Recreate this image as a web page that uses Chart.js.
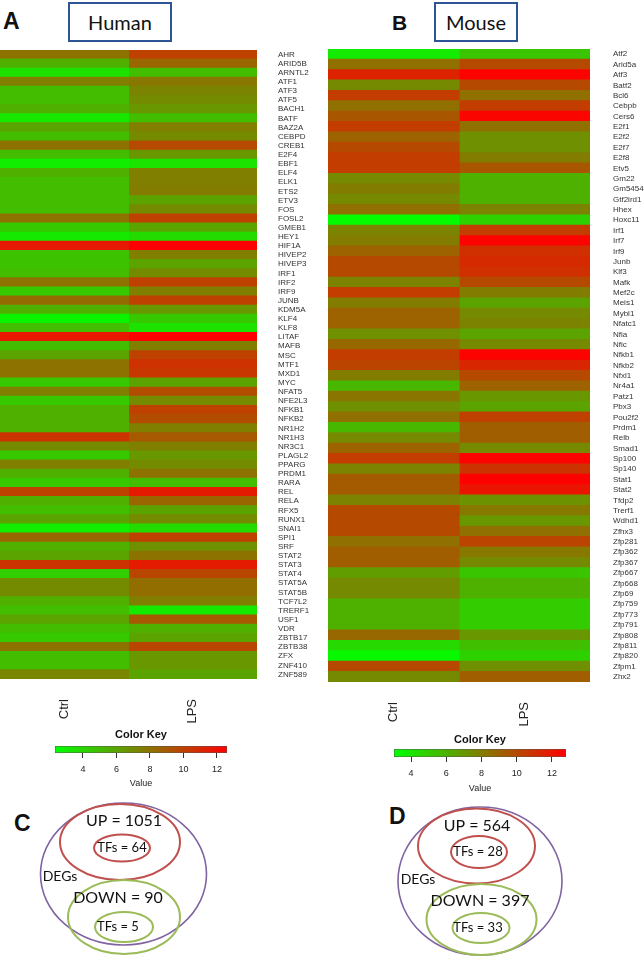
<!DOCTYPE html>
<meta charset="utf-8">
<title>TF heatmaps</title>
<style>
  body { margin: 0; background: #fff; }
  #page { position: relative; width: 644px; height: 960px; overflow: hidden; font-family: "Liberation Sans", Arial, sans-serif; }
  .abs { position: absolute; }
  .panel { font-weight: bold; line-height: 1; color: #111; }
  .hdr { border: 2.5px solid #2f5496; box-sizing: border-box; display: flex; align-items: center; justify-content: center; font-family: Lato, sans-serif; font-size: 20px; color: #111; }
</style>
<div id="page">
  <div class="abs panel" style="left:3px;top:10px;font-size:23px">A</div>
  <div class="abs hdr" style="left:68px;top:2px;width:104px;height:40px">Human</div>
  <div class="abs panel" style="left:392px;top:12px;font-size:21px">B</div>
  <div class="abs hdr" style="left:434px;top:2px;width:84px;height:40px">Mouse</div>
  <div class="abs panel" style="left:14px;top:812px;font-size:23px">C</div>
  <div class="abs panel" style="left:389px;top:805px;font-size:23px">D</div>

  <div class="abs" style="left:0;top:0;width:330px;height:735px"><canvas id="hHeat"></canvas></div>
  <div class="abs" style="left:328px;top:0;width:316px;height:740px"><canvas id="mHeat"></canvas></div>
  <div class="abs" style="left:40px;top:728px;width:210px;height:65px"><canvas id="hKey"></canvas></div>
  <div class="abs" style="left:380px;top:733px;width:210px;height:65px"><canvas id="mKey"></canvas></div>
  <div class="abs" style="left:0;top:795px;width:230px;height:165px"><canvas id="hVenn"></canvas></div>
  <div class="abs" style="left:380px;top:795px;width:200px;height:165px"><canvas id="mVenn"></canvas></div>
</div>
<script src="https://cdn.jsdelivr.net/npm/chart.js@4"></script>
<script>
  const conditions = ["Ctrl", "LPS"]

  const humanGenes = ["AHR", "ARID5B", "ARNTL2", "ATF1", "ATF3", "ATF5", "BACH1", "BATF", "BAZ2A", "CEBPD",
    "CREB1", "E2F4", "EBF1", "ELF4", "ELK1", "ETS2", "ETV3", "FOS", "FOSL2", "GMEB1",
    "HEY1", "HIF1A", "HIVEP2", "HIVEP3", "IRF1", "IRF2", "IRF9", "JUNB", "KDM5A", "KLF4",
    "KLF8", "LITAF", "MAFB", "MSC", "MTF1", "MXD1", "MYC", "NFAT5", "NFE2L3", "NFKB1",
    "NFKB2", "NR1H2", "NR1H3", "NR3C1", "PLAGL2", "PPARG", "PRDM1", "RARA", "REL", "RELA",
    "RFX5", "RUNX1", "SNAI1", "SPI1", "SRF", "STAT2", "STAT3", "STAT4", "STAT5A", "STAT5B",
    "TCF7L2", "TRERF1", "USF1", "VDR", "ZBTB17", "ZBTB38", "ZFX", "ZNF410", "ZNF589"]
  const humanCtrl = [8, 5.5, 3.5, 7.5, 5, 5, 5.5, 3.3, 6, 5,
    8, 5, 3, 5.5, 5, 5, 5, 5, 8, 4.5,
    3.2, 11.6, 4.8, 4.8, 5, 8, 4.5, 8.3, 5.5, 2.8,
    5, 11.7, 5, 6, 8, 8, 4.5, 7.5, 4.5, 5.5,
    5.5, 5.5, 10.5, 7, 4.5, 7.5, 5.5, 4.5, 10, 5.5,
    5, 6, 3, 8.5, 5.5, 6, 10.5, 4.3, 7, 7,
    5.5, 5, 6, 5, 4.5, 8, 5, 5, 7.2]
  const humanLPS = [10, 8.5, 5, 7.8, 7.3, 7, 6.5, 5, 7.5, 7,
    9.6, 6.5, 3.4, 7.5, 7.5, 7.6, 6, 7, 10, 6,
    3.8, 12.6, 7.5, 6, 7, 10, 7.5, 10, 6.5, 4.5,
    3.5, 12.6, 7.5, 10, 10.6, 10.4, 6, 9.5, 7, 10,
    9.5, 7.5, 9, 7.5, 6.5, 7, 8, 5, 11.5, 8.5,
    6, 7, 3.8, 10, 6.8, 8, 11.5, 9.8, 8.2, 8.2,
    7.5, 3.2, 9, 5.5, 6, 9.8, 6.5, 6.5, 6]

  const mouseGenes = ["Atf2", "Arid5a", "Atf3", "Batf2", "Bcl6", "Cebpb", "Cers6", "E2f1", "E2f2", "E2f7",
    "E2f8", "Etv5", "Gm22", "Gm5454", "Gtf2ird1", "Hhex", "Hoxc11", "Irf1", "Irf7", "Irf9",
    "Junb", "Klf3", "Mafk", "Mef2c", "Meis1", "Mybl1", "Nfatc1", "Nfia", "Nfic", "Nfkb1",
    "Nfkb2", "Nfxl1", "Nr4a1", "Patz1", "Pbx3", "Pou2f2", "Prdm1", "Relb", "Smad1", "Sp100",
    "Sp140", "Stat1", "Stat2", "Tfdp2", "Trerf1", "Wdhd1", "Zfhx3", "Zfp281", "Zfp362", "Zfp367",
    "Zfp667", "Zfp668", "Zfp69", "Zfp759", "Zfp773", "Zfp791", "Zfp808", "Zfp811", "Zfp820", "Zfpm1",
    "Zhx2"]
  const mouseCtrl = [3.8, 8.5, 11.5, 7.5, 10.5, 8.5, 9.5, 10.5, 9, 10,
    10.5, 10.5, 7.5, 8, 7.5, 8.5, 3.2, 7.8, 8, 9,
    10, 10, 7.8, 10.5, 8, 9, 9, 7.3, 8.8, 10.5,
    10.2, 8, 5.8, 8.3, 7.3, 8.5, 5.8, 7.5, 9, 10.5,
    7.8, 9.3, 9.3, 7.8, 10, 10, 10, 8.5, 9.2, 9.2,
    6.8, 7.5, 7.5, 6, 6, 6, 8.8, 4.5, 3.3, 10,
    7.5]
  const mouseLPS = [5.2, 10, 12.7, 10, 8.5, 10.5, 12.6, 8.5, 7.3, 7.3,
    8, 9.5, 6, 6, 6, 7.8, 4.8, 10.5, 12.7, 11,
    11.2, 11, 10, 8, 6.5, 7.5, 7.8, 6.5, 7.5, 12.7,
    11.3, 10, 9, 7, 6.5, 10.3, 9.2, 9.2, 7.5, 12.7,
    10.8, 12.8, 12, 7.2, 8.2, 7, 8.5, 10.2, 8.2, 7.5,
    5.2, 6, 6, 5, 5, 5, 7, 5.5, 4.8, 7.3,
    9.2]

  const humanRange = [2.33, 12.6]
  const mouseRange = [3.03, 12.8]
  const keyTicks = [4, 6, 8, 10, 12]

  const vennNames = ["UP", "TFs", "DOWN", "TFs"]
  const humanCounts = [1051, 64, 90, 5]
  const mouseCounts = [564, 28, 397, 33]

  Chart.defaults.font.family = '"Liberation Sans", Arial, sans-serif'
  Chart.defaults.animation = false
  Chart.defaults.plugins.legend.display = false
  Chart.defaults.plugins.tooltip.enabled = false
  Chart.defaults.maintainAspectRatio = false

  function heat(v, [lo, hi]) {
    const t = Math.min(1, Math.max(0, (v - lo) / (hi - lo)))
    return `rgb(${Math.round(255 * t)},${Math.round(255 * (1 - t))},0)`
  }

  function heatmap(id, genes, cols, range, o) {
    return new Chart(document.getElementById(id), {
      type: "bar",
      data: {
        labels: genes,
        datasets: cols.map((vals, c) => ({
          label: conditions[c],
          data: vals.map(() => [c, c + 1]),
          backgroundColor: vals.map(v => heat(v, range)),
          borderWidth: 0,
          inflateAmount: 0.6,
        })),
      },
      options: {
        indexAxis: "y",
        grouped: false,
        barPercentage: 1,
        categoryPercentage: 1,
        layout: { padding: { top: o.top } },
        scales: {
          x: {
            type: "linear", min: 0, max: 2,
            afterBuildTicks: s => { s.ticks = conditions.map((_, i) => ({ value: i + 0.5 })) },
            ticks: { callback: (v, i) => conditions[i], minRotation: 90, maxRotation: 90, padding: o.labelGap, font: { size: 13 }, color: "#222" },
            grid: { display: false, drawTicks: false },
            border: { display: false },
            afterFit: s => { s.height = o.xh },
          },
          y: {
            type: "category", position: "right",
            ticks: { autoSkip: false, padding: o.pad, font: { size: 8 }, color: "#333" },
            grid: { display: false, drawTicks: false },
            border: { display: false },
            afterFit: s => { s.width = o.yw },
          },
        },
      },
    })
  }

  heatmap("hHeat", humanGenes, [humanCtrl, humanLPS], humanRange, { top: 50, xh: 56, yw: 73, pad: 21, labelGap: 20 })
  heatmap("mHeat", mouseGenes, [mouseCtrl, mouseLPS], mouseRange, { top: 49, xh: 58, yw: 54, pad: 23, labelGap: 20 })

  function colorKey(id, range, o) {
    return new Chart(document.getElementById(id), {
      type: "bar",
      data: {
        labels: [""],
        datasets: [{
          data: [range],
          backgroundColor: ctx => {
            const a = ctx.chart.chartArea
            if (!a) return "#888"
            const g = ctx.chart.ctx.createLinearGradient(a.left, 0, a.right, 0)
            g.addColorStop(0, heat(range[0], range))
            g.addColorStop(1, heat(range[1], range))
            return g
          },
          borderColor: "#555",
          borderWidth: 0.8,
          borderSkipped: false,
        }],
      },
      options: {
        indexAxis: "y",
        barPercentage: 1,
        categoryPercentage: 1,
        layout: { padding: { left: o.left, right: o.right } },
        plugins: {
          title: { display: true, text: "Color Key", color: "#111", font: { size: 11, weight: "bold" }, padding: { top: 0, bottom: o.titleGap } },
        },
        scales: {
          x: {
            type: "linear", min: range[0], max: range[1],
            afterBuildTicks: s => { s.ticks = keyTicks.map(v => ({ value: v })) },
            ticks: { font: { size: 9 }, color: "#222", padding: 6 },
            grid: { drawOnChartArea: false, tickLength: 5, color: "#333" },
            border: { display: false },
            title: { display: true, text: "Value", font: { size: 9 }, color: "#222", padding: { top: 2, bottom: 4 } },
            afterFit: s => { s.height = o.xh },
          },
          y: { display: false },
        },
      },
    })
  }

  colorKey("hKey", humanRange, { left: 15, right: 23, titleGap: 4.8, xh: 40 })
  colorKey("mKey", mouseRange, { left: 14, right: 24, titleGap: 2.8, xh: 41 })

  // venn layout: [cx, cy, rx, ry] in panel units, outer first
  const vennPlugin = {
    id: "venn",
    afterDraw(chart) {
      const { ctx, scales: { x, y } } = chart
      const o = chart.options.plugins.venn
      const px = v => x.getPixelForValue(v), py = v => y.getPixelForValue(v)
      const sx = v => Math.abs(x.getPixelForValue(v) - x.getPixelForValue(0))
      const sy = v => Math.abs(y.getPixelForValue(v) - y.getPixelForValue(0))
      ctx.save()
      o.shapes.forEach(([cx, cy, rx, ry, color, w]) => {
        ctx.beginPath()
        ctx.ellipse(px(cx), py(cy), sx(rx), sy(ry), 0, 0, Math.PI * 2)
        ctx.strokeStyle = color
        ctx.lineWidth = w
        ctx.stroke()
      })
      ctx.fillStyle = "#111"
      ctx.textAlign = "center"
      ctx.textBaseline = "middle"
      o.texts.forEach(([tx, ty, text, size]) => {
        ctx.font = `${size}px Lato, sans-serif`
        ctx.fillText(text, px(tx), py(ty))
      })
      ctx.restore()
    },
  }

  function venn(id, counts, w, h, shapes, spots) {
    const texts = spots.map(([tx, ty, size], i) =>
      [tx, ty, i < 4 ? `${vennNames[i]} = ${counts[i]}` : "DEGs", size])
    return new Chart(document.getElementById(id), {
      type: "scatter",
      data: { datasets: [] },
      plugins: [vennPlugin],
      options: {
        plugins: { venn: { shapes, texts } },
        scales: {
          x: { type: "linear", min: 0, max: w, display: false },
          y: { type: "linear", min: 0, max: h, reverse: true, display: false },
        },
      },
    })
  }

  const purple = "#8064a2", red = "#c0504d", green = "#9bbb59"
  venn("hVenn", humanCounts, 230, 165, [
    [123.5, 79, 83, 71, purple, 1.6],
    [120, 47, 60, 38, red, 2],
    [122, 53, 28, 13.5, red, 2],
    [124, 122, 56, 37, green, 2],
    [124, 132, 29, 15, green, 2],
  ], [[124, 26, 16], [122, 53, 13], [118, 103, 16], [118, 132, 13], [60, 81, 14]])
  venn("mVenn", mouseCounts, 200, 165, [
    [100, 86, 82, 74, purple, 1.6],
    [96.5, 51, 58.5, 37.5, red, 2],
    [99, 57, 28, 16, red, 2],
    [101.5, 124.5, 55, 35.5, green, 2],
    [101, 133, 28.5, 15, green, 2],
  ], [[97, 31, 16], [98, 57, 13], [100, 106, 16], [98, 133, 13], [38, 84, 14]])
</script>
